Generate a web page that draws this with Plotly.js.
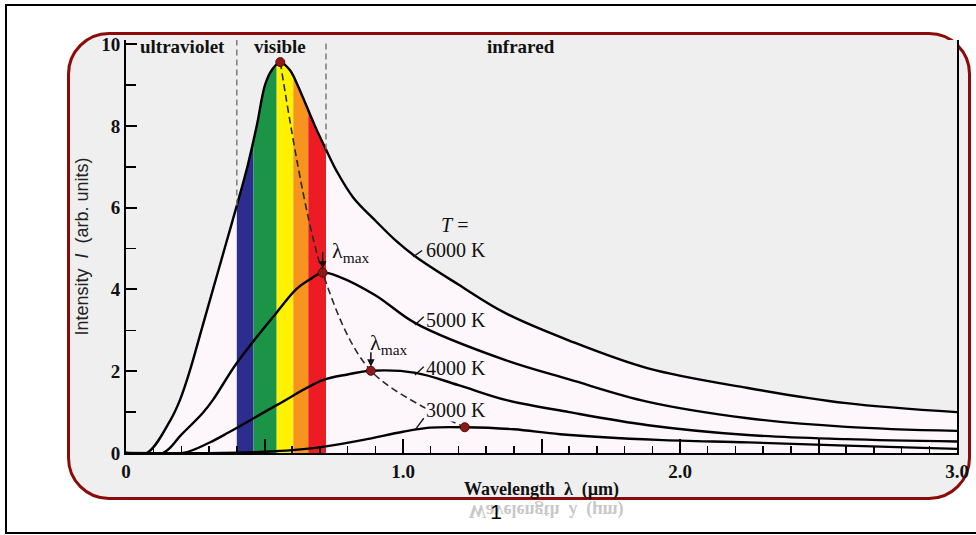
<!DOCTYPE html>
<html>
<head>
<meta charset="utf-8">
<script src="https://cdn.plot.ly/plotly-3.0.1.min.js"></script>
<style>
  html, body { margin: 0; padding: 0; background: #ffffff; }
  #wrap { position: relative; width: 976px; height: 535px; overflow: hidden; background: #ffffff; }
  #outer { position: absolute; left: 5px; top: 4px; width: 990px; height: 526px; border: 2.5px solid #000; }
  #frame { position: absolute; left: 67px; top: 32px; width: 904px; height: 468px; box-sizing: border-box;
           border: 3px solid #8b0b0b; border-radius: 42px; background: #efefef; }
  #chart { position: absolute; left: 0; top: 0; width: 976px; height: 535px; }
  #refl { position: absolute; left: 446px; top: 500px; width: 200px; text-align: center; transform: scaleY(-1);
          font-family: 'Liberation Serif', serif; font-weight: bold; font-size: 18px; color: #c8c8c8; white-space: pre; }
  #page { position: absolute; left: 486px; top: 500px; width: 20px; text-align: center;
          font-family: 'Liberation Sans', sans-serif; font-size: 21px; color: #000; }
</style>
</head>
<body>
<div id="wrap">
  <div id="outer"></div>
  <div id="frame"></div>
  <div id="refl">Wavelength  λ  (µm)</div>
  <div id="page">1</div>
  <div id="chart"></div>
</div>
<script>
// ---- data ----
const x6000 = [0, 0.075, 0.16, 0.195, 0.23, 0.272, 0.314, 0.356, 0.4, 0.44, 0.472, 0.502, 0.526, 0.557, 0.592, 0.616, 0.682, 0.72, 0.76, 0.82, 0.905, 0.97, 1.046, 1.2, 1.37, 1.6, 1.885, 2.245, 2.6, 3.0];
const y6000 = [0, 0, 0.8, 1.3, 2.0, 3.0, 4.0, 5.0, 6.05, 7.05, 8.0, 9.0, 9.36, 9.56, 9.36, 9.05, 8.0, 7.45, 6.9, 6.25, 5.65, 5.22, 4.8, 4.12, 3.42, 2.75, 2.07, 1.59, 1.22, 1.0];

const x5000 = [0, 0.133, 0.2, 0.277, 0.314, 0.4, 0.542, 0.614, 0.66, 0.71, 0.77, 0.9, 1.046, 1.37, 1.6, 1.885, 2.245, 2.6, 3.0];
const y5000 = [0, 0, 0.45, 0.98, 1.3, 2.2, 3.42, 4.0, 4.23, 4.41, 4.31, 3.86, 3.17, 2.27, 1.8, 1.25, 0.85, 0.64, 0.54];

const x4000 = [0, 0.205, 0.3, 0.375, 0.544, 0.71, 0.8, 0.884, 1.046, 1.2, 1.37, 1.6, 1.885, 2.245, 2.6, 3.0];
const y4000 = [0, 0, 0.25, 0.52, 1.17, 1.78, 1.92, 2.01, 1.96, 1.66, 1.30, 1.0, 0.68, 0.44, 0.34, 0.28];

const x3000 = [0, 0.35, 0.5, 0.6, 0.71, 0.857, 1.0, 1.097, 1.223, 1.4, 1.567, 1.92, 2.245, 2.6, 3.0];
const y3000 = [0, 0, 0.03, 0.07, 0.15, 0.32, 0.52, 0.62, 0.63, 0.58, 0.46, 0.32, 0.26, 0.18, 0.1];

const peakX = [0.557, 0.71, 0.884, 1.223];
const peakY = [9.56, 4.41, 2.01, 0.63];

const curveLabels = ['6000 K', '5000 K', '4000 K', '3000 K'];
const regionLabels = ['ultraviolet', 'visible', 'infrared'];
const regionLabelX = [0.205, 0.555, 1.425];

const bandEdges = [0.40, 0.46, 0.544, 0.604, 0.658, 0.722];
const bandColors = ['#2c2e8f', '#1b9447', '#fff200', '#f7941d', '#ed1c24'];
const visibleLimits = [0.40, 0.722];

const xTickVals = [0, 0.5, 1.0, 1.5, 2.0, 2.5, 3.0];
const xTickText = ['0', '', '1.0', '', '2.0', '', '3.0'];
const yTickVals = [0, 2, 4, 6, 8, 10];
const yTickText = ['0', '2', '4', '6', '8', '10'];

const yTop = 10.1;

// ---- build ----
function interp(xs, ys, x) {
  for (let i = 0; i < xs.length - 1; i++) {
    if (x >= xs[i] && x <= xs[i + 1]) {
      const t = (x - xs[i]) / (xs[i + 1] - xs[i]);
      return ys[i] + t * (ys[i + 1] - ys[i]);
    }
  }
  return 0;
}

const serif = "'Liberation Serif', 'Times New Roman', serif";
const curveLine = {color: '#000', width: 2.4, shape: 'spline', smoothing: 1};

const traces = [
  {x: [0, 3.0], y: [yTop, yTop], mode: 'lines', line: {width: 0, color: 'rgba(0,0,0,0)'}, hoverinfo: 'skip', showlegend: false},
  {x: x6000, y: y6000, mode: 'lines', fill: 'tonexty', fillcolor: '#efefef', line: curveLine, name: '6000 K', showlegend: false},
  {x: x5000, y: y5000, mode: 'lines', line: curveLine, name: '5000 K', showlegend: false},
  {x: x4000, y: y4000, mode: 'lines', line: curveLine, name: '4000 K', showlegend: false},
  {x: x3000, y: y3000, mode: 'lines', line: curveLine, name: '3000 K', showlegend: false},
  {x: peakX, y: peakY, mode: 'lines', line: {color: '#2a2a2a', width: 1.6, dash: '7px,4px', shape: 'spline', smoothing: 0.9}, hoverinfo: 'skip', showlegend: false},
  {x: peakX, y: peakY, mode: 'markers', marker: {color: '#8b1a1a', size: 9, line: {color: '#5a0a0a', width: 1}}, showlegend: false}
];

const shapes = [];
for (let i = 0; i < bandColors.length; i++) {
  shapes.push({type: 'rect', layer: 'below', xref: 'x', yref: 'y', x0: bandEdges[i], x1: bandEdges[i + 1], y0: 0, y1: yTop,
               fillcolor: bandColors[i], line: {width: 0}});
}
visibleLimits.forEach(v => {
  shapes.push({type: 'line', layer: 'above', xref: 'x', yref: 'y', x0: v, x1: v, y0: interp(x6000, y6000, v), y1: yTop,
               line: {color: '#7a7a7a', width: 1.5, dash: '6px,4px'}});
});
// leader ticks from curves to labels
const leadX = [1.037, 1.043, 1.043, 1.043];
const leadY = [4.8, 3.13, 1.91, 0.56];
const leadDY = [0.15, 0.2, 0.2, 0.29];
leadX.forEach((lx, i) => {
  shapes.push({type: 'line', layer: 'above', xref: 'x', yref: 'y', x0: lx, x1: lx + 0.032, y0: leadY[i], y1: leadY[i] + leadDY[i],
               line: {color: '#111', width: 1.3}});
});

const annotations = [];
regionLabels.forEach((t, i) => {
  annotations.push({x: regionLabelX[i], y: 9.93, xref: 'x', yref: 'y', text: '<b>' + t + '</b>', showarrow: false,
                    font: {family: serif, size: 19, color: '#111'}});
});
annotations.push({x: 1.185, y: 5.57, xref: 'x', yref: 'y', text: '<i>T</i> =', showarrow: false,
                  font: {family: serif, size: 20, color: '#111'}});
const labelY = [4.96, 3.25, 2.08, 1.04];
curveLabels.forEach((t, i) => {
  annotations.push({x: 1.19, y: labelY[i], xref: 'x', yref: 'y', text: t, showarrow: false,
                    bgcolor: i === 3 ? '#fdf7fb' : 'rgba(0,0,0,0)', borderpad: 0,
                    font: {family: serif, size: 20, color: '#111'}});
});
// lambda max labels and arrows
annotations.push({x: 0.812, y: 4.92, xref: 'x', yref: 'y', text: 'λ<sub>max</sub>', showarrow: false,
                  font: {family: serif, size: 22, color: '#111'}});
annotations.push({x: 0.948, y: 2.67, xref: 'x', yref: 'y', text: 'λ<sub>max</sub>', showarrow: false,
                  font: {family: serif, size: 22, color: '#111'}});
annotations.push({x: peakX[1], y: peakY[1], xref: 'x', yref: 'y', text: '', showarrow: true, arrowhead: 2,
                  arrowsize: 1, arrowwidth: 1.5, arrowcolor: '#111', ax: 0, ay: -22, standoff: 4});
annotations.push({x: peakX[2], y: peakY[2], xref: 'x', yref: 'y', text: '', showarrow: true, arrowhead: 2,
                  arrowsize: 1, arrowwidth: 1.5, arrowcolor: '#111', ax: 0, ay: -20, standoff: 4});

const layout = {
  width: 976, height: 535,
  margin: {l: 126, r: 19, t: 40, b: 82},
  paper_bgcolor: 'rgba(0,0,0,0)',
  plot_bgcolor: '#fdf7fb',
  showlegend: false,
  xaxis: {
    range: [0, 3.0], showgrid: false, zeroline: false,
    showline: true, linecolor: '#000', linewidth: 2,
    ticks: 'inside', ticklen: 14, tickwidth: 2, tickcolor: '#000',
    tickmode: 'array', tickvals: xTickVals, ticktext: xTickText,
    ticklabelstandoff: 0,
    minor: {tick0: 0, dtick: 0.1, ticks: 'inside', ticklen: 7, tickwidth: 1.5, tickcolor: '#000', showgrid: false},
    tickfont: {family: serif, size: 19, color: '#111', weight: 'bold'},
    title: {text: '<b>Wavelength\u00a0\u00a0λ\u00a0\u00a0(µm)</b>', font: {family: serif, size: 18, color: '#111'}, standoff: 2}
  },
  yaxis: {
    range: [0, yTop], showgrid: false, zeroline: false,
    showline: true, mirror: true, linecolor: '#000', linewidth: 2,
    ticks: 'inside', ticklen: 11, tickwidth: 2, tickcolor: '#000',
    tickmode: 'array', tickvals: yTickVals, ticktext: yTickText,
    minor: {tick0: 0, dtick: 1, ticks: 'inside', ticklen: 10, tickwidth: 1.5, tickcolor: '#000', showgrid: false},
    tickfont: {family: serif, size: 19, color: '#111', weight: 'bold'},
    title: {text: 'Intensity  <i>I</i>  (arb. units)', font: {family: "'Liberation Sans', 'DejaVu Sans', sans-serif", size: 18, color: '#222'}, standoff: 8}
  },
  shapes: shapes,
  annotations: annotations
};

Plotly.newPlot('chart', traces, layout, {displayModeBar: false, staticPlot: true});
</script>
</body>
</html>
